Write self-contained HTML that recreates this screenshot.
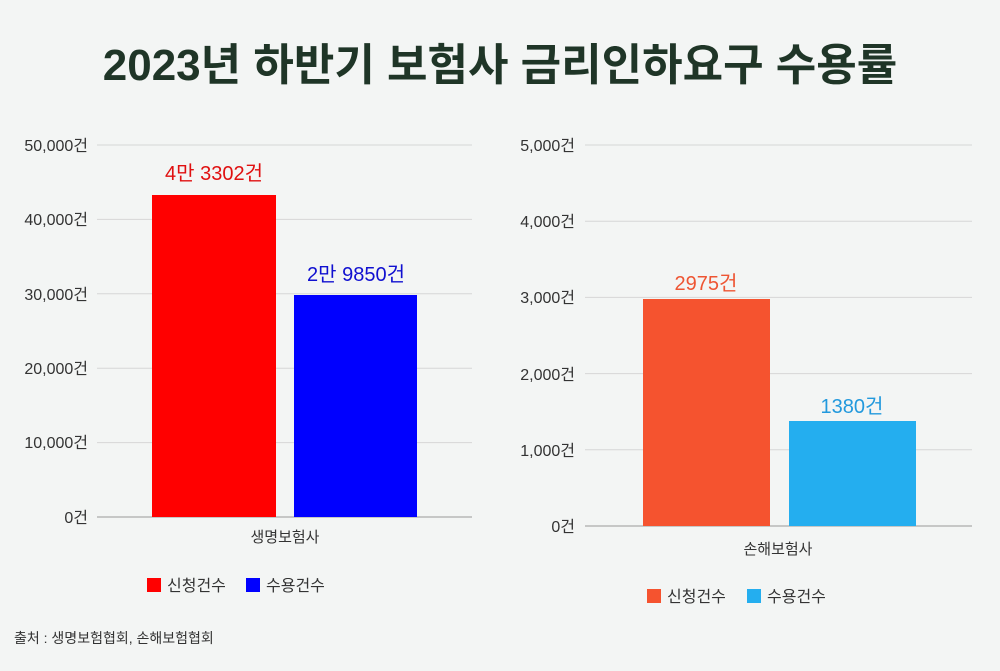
<!DOCTYPE html>
<html><head><meta charset="utf-8"><style>
body{margin:0;width:1000px;height:666px;background:#f3f5f4;overflow:hidden;font-family:"Liberation Sans","Noto Sans CJK KR",sans-serif;}
</style></head><body>
<svg width="1000" height="666" xmlns="http://www.w3.org/2000/svg" font-family="Liberation Sans, Noto Sans CJK KR, sans-serif">
<rect width="1000" height="666" fill="#f3f5f4"/>
<text x="500" y="80" text-anchor="middle" font-size="44" font-weight="bold" fill="#1f3527">2023년 하반기 보험사 금리인하요구 수용률</text>
<g stroke="#d6d6d6" stroke-width="1">
<line x1="97" y1="145" x2="472" y2="145"/><line x1="97" y1="219.4" x2="472" y2="219.4"/>
<line x1="97" y1="293.8" x2="472" y2="293.8"/><line x1="97" y1="368.2" x2="472" y2="368.2"/>
<line x1="97" y1="442.6" x2="472" y2="442.6"/>
</g>
<line x1="97" y1="517" x2="472" y2="517" stroke="#999"/>
<g font-size="16" fill="#333" text-anchor="end">
<text x="88" y="151">50,000건</text><text x="88" y="225">40,000건</text>
<text x="88" y="300">30,000건</text><text x="88" y="374">20,000건</text>
<text x="88" y="448">10,000건</text><text x="88" y="523">0건</text>
</g>
<rect x="152" y="195" width="124" height="322" fill="#ff0000"/>
<rect x="294" y="295" width="123" height="222" fill="#0000ff"/>
<text x="214" y="180" text-anchor="middle" font-size="20" fill="#e01010">4만 3302건</text>
<text x="356" y="281" text-anchor="middle" font-size="20" fill="#1010d0">2만 9850건</text>
<text x="285" y="542" text-anchor="middle" font-size="15" fill="#333">생명보험사</text>
<rect x="147" y="578" width="14" height="14" fill="#ff0000"/>
<text x="167" y="591" font-size="16" fill="#333">신청건수</text>
<rect x="246" y="578" width="14" height="14" fill="#0000ff"/>
<text x="266" y="591" font-size="16" fill="#333">수용건수</text>
<g stroke="#d6d6d6" stroke-width="1">
<line x1="585" y1="145" x2="972" y2="145"/><line x1="585" y1="221.2" x2="972" y2="221.2"/>
<line x1="585" y1="297.4" x2="972" y2="297.4"/><line x1="585" y1="373.6" x2="972" y2="373.6"/>
<line x1="585" y1="449.8" x2="972" y2="449.8"/>
</g>
<line x1="585" y1="526" x2="972" y2="526" stroke="#999"/>
<g font-size="16" fill="#333" text-anchor="end">
<text x="575" y="151">5,000건</text><text x="575" y="227">4,000건</text>
<text x="575" y="303">3,000건</text><text x="575" y="380">2,000건</text>
<text x="575" y="456">1,000건</text><text x="575" y="532">0건</text>
</g>
<rect x="643" y="299" width="127" height="227" fill="#f5532f"/>
<rect x="789" y="421" width="127" height="105" fill="#24aeef"/>
<text x="706" y="290" text-anchor="middle" font-size="20" fill="#ee5533">2975건</text>
<text x="852" y="413" text-anchor="middle" font-size="20" fill="#2299dd">1380건</text>
<text x="778" y="554" text-anchor="middle" font-size="15" fill="#333">손해보험사</text>
<rect x="647" y="589" width="14" height="14" fill="#f5532f"/>
<text x="667" y="602" font-size="16" fill="#333">신청건수</text>
<rect x="747" y="589" width="14" height="14" fill="#24aeef"/>
<text x="767" y="602" font-size="16" fill="#333">수용건수</text>
<text x="14" y="643" font-size="14" fill="#333">출처 : 생명보험협회, 손해보험협회</text>
</svg>
</body></html>
